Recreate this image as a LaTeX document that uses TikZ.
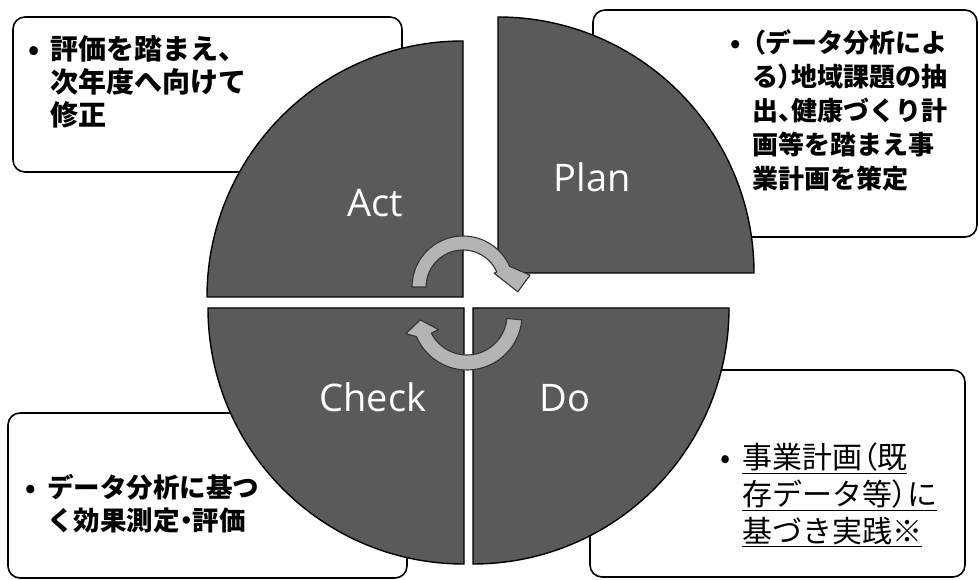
\documentclass[tikz,border=0pt]{standalone}
\usepackage{fontspec}
\usetikzlibrary{positioning}
\newfontfamily\jpfont{Noto Sans CJK JP}
\newfontfamily\labelfont{Open Sans}
\definecolor{sectorgray}{HTML}{5A5A5A}
\definecolor{arrowgray}{HTML}{B4B4B4}
\newcommand{\notebullet}{\makebox[22pt][l]{\textbullet}}
\newcommand{\noteindent}{\hspace*{22pt}}
\newcommand{\jpparen}[1]{{\addfontfeature{RawFeature=+palt}#1}}

\begin{document}
\begin{tikzpicture}[x=1pt, y=1pt]
    \tikzstyle{notebox} = [draw=black, line width=1.6pt, fill=white, rounded corners=12pt, inner sep=0pt];
    \tikzstyle{notetext} = [anchor=west, align=left, inner sep=0pt, text=black];
    \tikzstyle{sector} = [fill=sectorgray, draw=black, line width=1.4pt];
    \tikzstyle{cyclearrow} = [fill=arrowgray, draw=black!80, line width=1.1pt, line join=round];
    \tikzstyle{pdcalabel} = [text=white, font=\labelfont\fontsize{38}{42}\selectfont];

    \useasboundingbox (0,0) rectangle (979,580);
    \fill[white] (0,0) rectangle (979,580);

    % boxes behind the circle
    \node[notebox, minimum width=389pt, minimum height=155pt] (actbox) at (207.5,485.5) {};
    \node[notebox, minimum width=384pt, minimum height=227pt] (planbox) at (785,456.5) {};
    \node[notebox, minimum width=399pt, minimum height=165pt] (checkbox) at (207.5,84.5) {};
    \node[notebox, minimum width=375pt, minimum height=207pt] (dobox) at (777.5,106.5) {};

    % four quarters
    \coordinate (actc) at (463,283);
    \coordinate (planc) at (498,307);
    \coordinate (checkc) at (464,272);
    \coordinate (doc) at (473,272);

    \draw[sector] (actc) -- ++(-256,0) arc[start angle=180, end angle=90, radius=256pt] -- cycle;
    \draw[sector] (planc) -- ++(0,256) arc[start angle=90, end angle=0, radius=256pt] -- cycle;
    \draw[sector] (checkc) -- ++(0,-256) arc[start angle=270, end angle=180, radius=256pt] -- cycle;
    \draw[sector] (doc) -- ++(256,0) arc[start angle=0, end angle=-90, radius=256pt] -- cycle;

    % turning arrows
    \begin{scope}[shift={(463,293)}]
        \draw[cyclearrow] (180:51) arc[start angle=180, end angle=24, radius=51pt]
            -- (10:68) -- (-5:55) -- (24:34) -- (24:37)
            arc[start angle=24, end angle=180, radius=37pt] -- cycle;
    \end{scope}
    \begin{scope}[shift={(467,265)}]
        \draw[cyclearrow] (-5:55) arc[start angle=-5, end angle=-157, radius=55pt]
            -- (-163:64) -- (-174:47) -- (-153:32) -- (-153:40)
            arc[start angle=-153, end angle=-5, radius=40pt] -- cycle;
    \end{scope}

    \node[pdcalabel] (act) at (375,377) {Act};
    \node[pdcalabel] (plan) at (592,403) {Plan};
    \node[pdcalabel] (check) at (373,183) {Check};
    \node[pdcalabel] (do) at (565,182) {Do};

    % texts in the boxes
    \node[notetext, font=\jpfont\bfseries\fontsize{28}{33}\selectfont] (acttext) at (28,498)
        {\notebullet 評価を踏まえ、\\\noteindent 次年度へ向けて\\\noteindent 修正};
    \node[notetext, font=\jpfont\bfseries\fontsize{26}{34}\selectfont] (plantext) at (730,470)
        {\notebullet \jpparen{（}データ分析によ\\\noteindent る\jpparen{）}地域課題の抽\\\noteindent 出\jpparen{、}健康づくり計\\\noteindent 画等を踏まえ事\\\noteindent 業計画を策定};
    \node[notetext, font=\jpfont\bfseries\fontsize{26.5}{33}\selectfont] (checktext) at (25,76.5)
        {\notebullet データ分析に基つ\\\noteindent く効果測定\jpparen{・}評価};
    \node[notetext, font=\jpfont\fontsize{30}{37}\selectfont] (dotext) at (720,85)
        {\notebullet \underline{事業計画\jpparen{（}既}\\\noteindent \underline{存データ等\jpparen{）}に}\\\noteindent \underline{基づき実践※}};
\end{tikzpicture}
\end{document}
